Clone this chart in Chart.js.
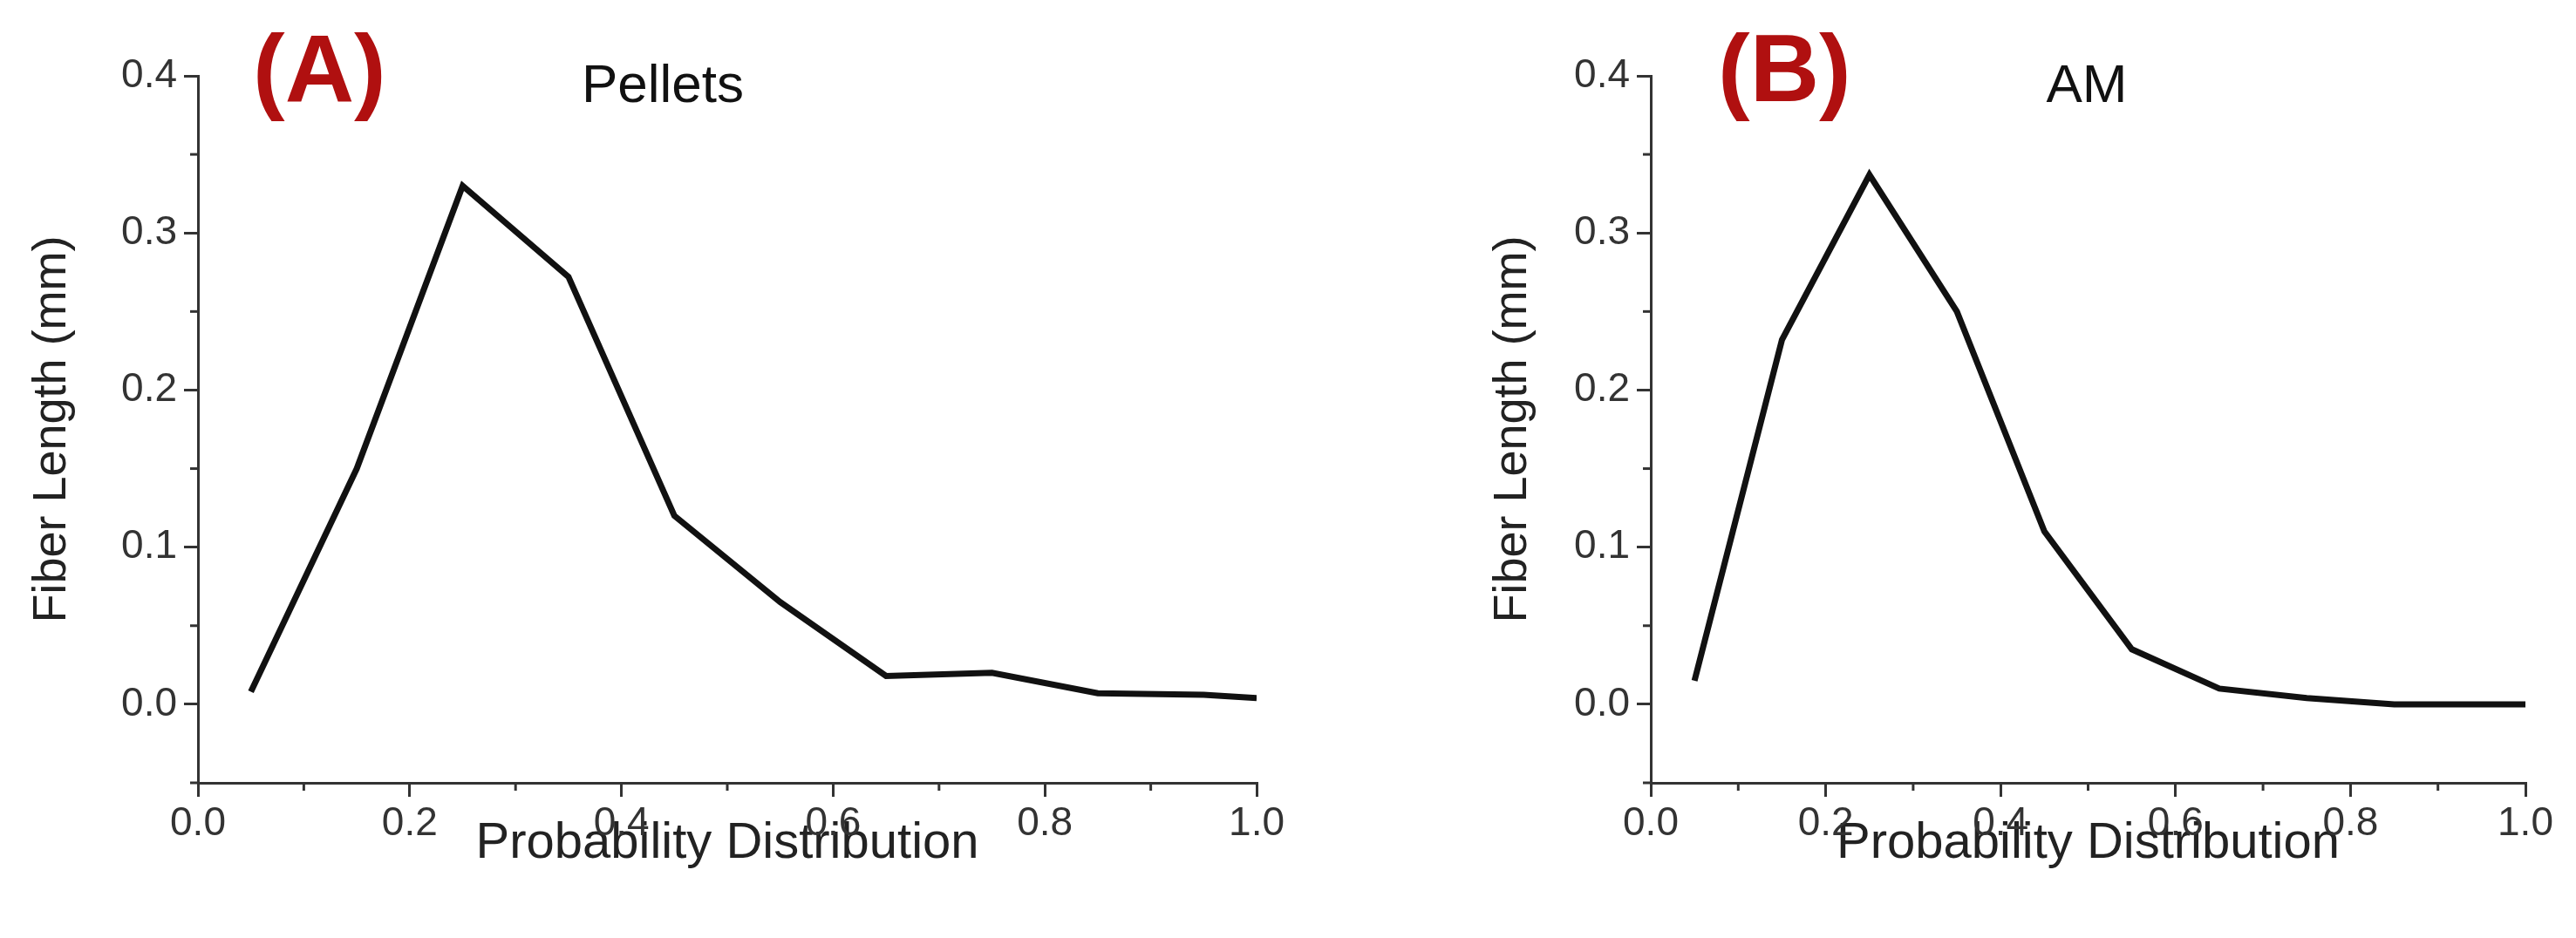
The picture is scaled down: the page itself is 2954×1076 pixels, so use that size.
<!DOCTYPE html>
<html>
<head>
<meta charset="utf-8">
<script src="https://cdn.jsdelivr.net/npm/chart.js@4"></script>
<style>
  body { margin: 0; background: #fff; }
  canvas { position: absolute; top: 0; }
</style>
</head>
<body>
<canvas id="chartA" style="left:0"></canvas>
<canvas id="chartB" style="left:1477px"></canvas>
<script>
// Fiber length distributions
const xValues = [0.05, 0.15, 0.25, 0.35, 0.45, 0.55, 0.65, 0.75, 0.85, 0.95, 1.0];
const pelletsValues = [0.008, 0.15, 0.33, 0.272, 0.12, 0.065, 0.018, 0.02, 0.007, 0.006, 0.004];
const amValues = [0.015, 0.232, 0.337, 0.25, 0.11, 0.035, 0.01, 0.004, 0.0, 0.0, 0.0];

const FONT = "'Liberation Sans', Arial, sans-serif";

// Minor ticks between major ticks, plus panel label and title
const decorPlugin = {
    id: 'decor',
    afterDraw(chart, args, opts) {
        const ctx = chart.ctx;
        const xs = chart.scales.x, ys = chart.scales.y;
        ctx.save();
        ctx.strokeStyle = '#333';
        ctx.lineWidth = 3;
        for (let v = 0.1; v < 1; v += 0.2) {
            const px = xs.getPixelForValue(v);
            ctx.beginPath();
            ctx.moveTo(px, ys.bottom);
            ctx.lineTo(px, ys.bottom + 9);
            ctx.stroke();
        }
        for (let v = -0.05; v < 0.4; v += 0.1) {
            const py = ys.getPixelForValue(v);
            ctx.beginPath();
            ctx.moveTo(xs.left, py);
            ctx.lineTo(xs.left - 9, py);
            ctx.stroke();
        }
        ctx.textBaseline = 'middle';
        ctx.textAlign = 'left';
        ctx.fillStyle = '#b01010';
        ctx.font = 'bold 110px ' + FONT;
        ctx.fillText(opts.label, opts.labelX, 86);
        ctx.fillStyle = '#111';
        ctx.font = '62px ' + FONT;
        ctx.textAlign = 'center';
        ctx.fillText(opts.title, opts.titleX, 100);
        ctx.restore();
    }
};

function renderPanel(id, values, label, labelX, title, titleX, padLeft, yWidth, padRight) {
    const canvas = document.getElementById(id);
    canvas.width = 1477;
    canvas.height = 1076;
    new Chart(canvas.getContext('2d'), {
        type: 'line',
        data: {
            datasets: [{
                data: xValues.map((x, i) => ({ x: x, y: values[i] })),
                borderColor: '#111',
                borderWidth: 7,
                pointRadius: 0,
                tension: 0,
                fill: false
            }]
        },
        options: {
            responsive: false,
            animation: false,
            layout: { padding: { left: padLeft, right: padRight, top: 87, bottom: 0 } },
            plugins: {
                legend: { display: false },
                tooltip: { enabled: false },
                decor: { label: label, labelX: labelX, title: title, titleX: titleX }
            },
            scales: {
                x: {
                    type: 'linear', min: 0, max: 1,
                    ticks: { stepSize: 0.2, color: '#333', font: { family: FONT, size: 46 },
                             padding: 4, callback: v => v.toFixed(1), maxRotation: 0 },
                    grid: { drawOnChartArea: false, drawTicks: true, tickLength: 16, color: '#333', lineWidth: 3 },
                    border: { color: '#333', width: 3 },
                    title: { display: true, text: 'Probability Distribution', color: '#222',
                             font: { family: FONT, size: 58 }, padding: { top: 4, bottom: 73 } },
                    afterFit: s => { s.height = 178; }
                },
                y: {
                    type: 'linear', min: -0.05, max: 0.4,
                    afterBuildTicks: s => { s.ticks = [0, 0.1, 0.2, 0.3, 0.4].map(v => ({ value: v })); },
                    ticks: { color: '#333', font: { family: FONT, size: 46 },
                             padding: 8, callback: v => v.toFixed(1) },
                    grid: { drawOnChartArea: false, drawTicks: true, tickLength: 16, color: '#333', lineWidth: 3 },
                    border: { color: '#333', width: 3 },
                    title: { display: true, text: 'Fiber Length (mm)', color: '#222',
                             font: { family: FONT, size: 54 }, padding: { bottom: 8 } },
                    afterFit: s => { s.width = yWidth; }
                }
            }
        },
        plugins: [decorPlugin]
    });
}

renderPanel('chartA', pelletsValues, '(A)', 290, 'Pellets', 760, 24, 203, 26);
renderPanel('chartB', amValues, '(B)', 493, 'AM', 916, 222, 194, 58);
</script>
</body>
</html>
